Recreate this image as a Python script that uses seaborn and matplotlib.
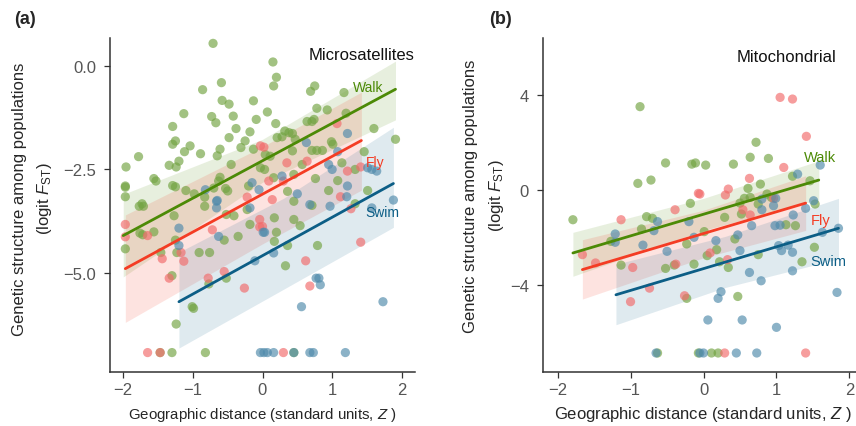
import numpy as np
import pandas as pd
import matplotlib
matplotlib.use("Agg")
import matplotlib.pyplot as plt
import seaborn as sns

# ---------------- data: panel (a) Microsatellites ----------------
a_walk_z = [-0.71,-0.86,-0.59,-0.58,-0.48,-0.13,-1.13,-0.73,-0.67,-0.42,-0.09,-1.29,-0.38,-0.18,-0.48,-1.25,-1.29,-1.04,-1.12,-0.89,
            -0.61,-0.65,-0.25,-0.31,-0.13,-1.78,-1.96,-1.20,-1.34,-1.24,-1.56,-1.53,-0.45,-0.61,-1.97,-1.97,-1.97,-1.29,-1.25,-1.10,
            -0.98,-0.70,-0.63,-0.53,-0.50,-0.83,-0.20,0.03,-1.73,
            0.15,0.20,0.16,0.75,0.69,1.17,0.07,0.19,0.78,0.93,1.20,0.74,0.71,0.64,0.32,0.38,0.43,0.21,0.28,0.47,
            1.60,1.91,0.99,1.01,0.71,0.78,0.86,0.43,0.04,0.11,1.46,0.57,1.14,1.33,-0.03,0.16,0.45,0.76,1.08,0.36,
            0.95,1.51,0.45,
            -1.97,-1.77,-1.71,-1.76,-1.72,-1.56,-1.27,-1.25,-1.46,-1.23,-0.91,-0.76,-0.83,-0.55,-0.52,-0.41,-0.35,-0.22,-0.18,-1.30,
            -0.77,-0.52,-1.01,-0.99,-1.24,-1.47,-1.30,-0.82,
            0.17,0.20,0.17,0.45,0.54,0.36,0.33,0.79,0.71,1.33,0.45]
a_walk_y = [0.55,-0.57,-0.40,-0.83,-0.92,-0.84,-1.15,-1.22,-1.37,-1.21,-1.29,-1.46,-1.51,-1.59,-1.73,-1.81,-1.89,-1.93,-2.07,-2.12,
            -2.01,-2.17,-1.81,-1.97,-2.01,-2.19,-2.44,-2.30,-2.40,-2.44,-2.72,-2.78,-2.38,-2.69,-2.90,-2.93,-3.16,-2.89,-2.92,-3.01,
            -3.09,-2.95,-2.78,-2.96,-3.02,-3.17,-2.90,-2.50,-3.33,
            0.10,-0.27,-0.48,-0.48,-0.61,-0.64,-1.11,-1.39,-1.02,-1.06,-1.14,-1.29,-1.34,-1.34,-1.57,-1.61,-1.63,-1.73,-1.71,-1.77,
            -1.51,-1.77,-1.83,-1.89,-2.04,-2.04,-2.04,-2.05,-2.14,-2.18,-2.07,-2.38,-2.34,-2.50,-2.46,-2.70,-2.62,-2.72,-2.77,-3.03,
            -3.01,-3.01,-3.27,
            -4.42,-3.39,-3.39,-4.04,-4.08,-4.01,-3.62,-4.21,-4.51,-4.51,-4.51,-4.51,-3.39,-4.21,-3.59,-3.62,-4.12,-3.47,-3.83,-5.07,
            -5.27,-5.13,-5.82,-5.86,-6.24,-6.93,-6.93,-6.93,
            -4.24,-4.02,-3.67,-3.71,-3.86,-4.34,-4.83,-4.34,-3.37,-3.33,-6.93]

a_fly_z = [-0.03,-0.22,1.07,0.02,0.35,0.64,1.41,1.22,0.09,0.30,1.12,0.14,-1.97,-1.97,-1.65,-1.17,-1.44,-1.13,-0.72,-0.04,
           -0.04,-1.34,-0.78,-0.55,-0.26,0.00,0.62,0.68,1.41,1.27,-1.65,-1.47,0.30]
a_fly_y = [-1.93,-3.17,-1.39,-1.96,-2.34,-2.30,-2.44,-2.54,-2.78,-2.78,-3.16,-3.23,-3.83,-4.13,-4.10,-4.51,-4.66,-4.72,-3.96,-3.71,
           -3.89,-5.13,-5.13,-4.97,-5.37,-3.88,-4.71,-5.32,-4.26,-3.45,-6.93,-6.93,-6.93]

a_swim_z = [-0.82,-0.65,-0.15,-0.05,1.22,0.63,1.08,0.95,1.00,1.51,1.57,1.64,0.28,1.22,0.50,1.21,1.88,-1.20,-1.20,-0.66,
            -0.66,-0.63,-0.18,0.01,-0.11,0.16,0.03,0.68,0.97,1.57,0.77,0.81,0.83,0.56,1.73,
            -0.03,0.02,0.07,0.16,0.45,0.68,0.73,1.19]
a_swim_y = [-2.99,-3.25,-2.82,-2.99,-1.63,-1.85,-2.07,-2.38,-2.50,-2.46,-2.50,-2.54,-2.66,-2.90,-3.09,-3.16,-3.24,-3.92,-4.34,-3.27,
            -3.43,-4.12,-3.43,-4.02,-4.71,-4.52,-4.02,-3.35,-3.39,-3.43,-5.13,-5.13,-5.29,-5.82,-5.70,
            -6.93,-6.93,-6.93,-6.93,-6.93,-6.93,-6.93,-6.93]

# fitted lines (end points) and confidence bands, panel (a)
a_walk_line_x = [-2.0, 1.91];  a_walk_line_y = [-4.10, -0.56]
a_fly_line_x = [-1.97, 1.42];  a_fly_line_y = [-4.90, -1.80]
a_swim_line_x = [-1.20, 1.88]; a_swim_line_y = [-5.70, -2.84]
a_walk_band_x = [-2.0, 0.0, 1.91];  a_walk_band_lo = [-5.10, -2.81, -1.30]; a_walk_band_hi = [-3.10, -1.77, 0.12]
a_fly_band_x = [-1.97, 0.0, 1.42];  a_fly_band_lo = [-6.20, -4.30, -3.00];  a_fly_band_hi = [-3.60, -1.95, -0.63]
a_swim_band_x = [-1.20, 0.3, 1.88]; a_swim_band_lo = [-6.82, -5.40, -3.90]; a_swim_band_hi = [-4.50, -3.20, -1.48]

# ---------------- data: panel (b) Mitochondrial ----------------
b_walk_z = [-0.87,-0.52,-0.16,-0.11,-0.90,-0.72,-1.79,-0.18,-0.78,-0.70,-1.27,-0.85,-1.13,-0.23,-0.52,-0.40,-0.13,-0.23,
            0.72,0.64,0.89,0.41,0.03,1.22,1.46,0.61,0.78,0.56,0.64,0.50,0.87,0.93,0.75,0.52,1.53,0.29,0.01,1.13,1.26,
            0.43,0.18,0.05,0.75,1.52,1.35,0.34,0.22,0.47,-0.63,-0.07,0.11,0.20]
b_walk_y = [3.51,1.14,1.09,1.14,0.28,0.42,-1.25,-0.56,-1.12,-1.19,-2.16,-1.64,-3.16,-2.27,-3.30,-3.16,-3.12,-4.56,
            2.01,1.38,1.33,1.09,1.05,0.58,0.39,0.07,0.25,-0.35,-0.31,-0.55,-0.17,-0.31,-0.59,-1.01,-0.59,-1.15,-1.75,-1.46,-1.50,
            -2.06,-2.51,-2.76,-2.72,-2.41,-3.02,-3.26,-3.02,-4.48,-6.86,-6.86,-6.86,-6.86]

b_fly_z = [-1.13,-0.39,-0.07,-1.66,-1.48,-0.97,-0.38,-0.74,-1.00,-0.26,1.05,1.22,1.41,1.10,0.63,0.34,0.30,-0.05,0.96,0.54,
           0.64,0.09,0.33,0.29,1.40]
b_fly_y = [-1.25,-0.83,-0.14,-2.72,-3.07,-3.26,-3.12,-4.13,-4.70,-4.45,3.90,3.83,2.26,0.95,0.49,0.04,-0.21,-0.17,-0.35,-0.83,
           -1.05,-2.65,-2.93,-6.86,-6.86]

b_swim_z = [-0.63,-0.20,-1.21,-1.21,-0.68,-0.83,-0.50,-0.13,1.60,1.29,0.99,0.80,0.80,0.96,1.51,1.40,0.66,0.98,1.05,1.23,
            0.47,0.17,0.50,1.03,1.07,1.16,1.22,1.85,1.63,0.63,0.79,1.22,1.83,0.24,0.20,0.06,0.53,1.00,
            -0.65,-0.05,0.00,0.45,0.73]
b_swim_y = [-1.33,-1.33,-1.85,-2.20,-1.71,-2.32,-2.58,-1.99,1.05,0.67,-0.35,-0.38,-0.83,-0.66,-0.45,-0.77,-1.50,-1.50,-1.48,-1.05,
            -1.89,-2.13,-2.55,-2.34,-2.55,-2.32,-2.62,-1.61,-1.78,-3.47,-3.82,-3.40,-4.31,-4.28,-4.56,-5.47,-5.47,-5.78,
            -6.86,-6.86,-6.86,-6.86,-6.86]

b_walk_line_x = [-1.79, 1.58]; b_walk_line_y = [-2.65, 0.42]
b_fly_line_x = [-1.66, 1.40];  b_fly_line_y = [-3.35, -0.55]
b_swim_line_x = [-1.20, 1.85]; b_swim_line_y = [-4.41, -1.61]
b_walk_band_x = [-1.79, 0.0, 1.58]; b_walk_band_lo = [-3.63, -1.70, -0.40]; b_walk_band_hi = [-1.78, -0.35, 1.23]
b_fly_band_x = [-1.66, 0.0, 1.40];  b_fly_band_lo = [-4.59, -2.85, -1.70];  b_fly_band_hi = [-2.09, -0.85, 0.60]
b_swim_band_x = [-1.20, 0.3, 1.85]; b_swim_band_lo = [-5.67, -4.10, -2.90]; b_swim_band_hi = [-3.12, -1.95, -0.35]

groups = ["Walk", "Fly", "Swim"]
x_ticks = [-2, -1, 0, 1, 2]
x_ticklabels = ["\u22122", "\u22121", "0", "1", "2"]
a_y_ticks = [0.0, -2.5, -5.0]
a_y_ticklabels = ["0.0", "\u22122.5", "\u22125.0"]
b_y_ticks = [4, 0, -4]
b_y_ticklabels = ["4", "0", "\u22124"]

# ---------------- style ----------------
sns.set_style("ticks")
plt.rcParams["font.family"] = ["Liberation Sans", "DejaVu Sans"]
plt.rcParams["mathtext.fontset"] = "custom"
plt.rcParams["mathtext.rm"] = "Liberation Sans"
plt.rcParams["mathtext.it"] = "Liberation Sans:italic"

point_colors = {"Walk": "#72A341", "Fly": "#F26A6A", "Swim": "#4F8AAB"}
line_colors = {"Walk": "#4C8A06", "Fly": "#F43C24", "Swim": "#0C5E86"}
band_alpha = {"Walk": 0.13, "Fly": 0.14, "Swim": 0.13}

fig = plt.figure(figsize=(8.56, 4.27), dpi=100)
axA = fig.add_axes([110/856, 54/427, 305/856, 334/427])
axB = fig.add_axes([543/856, 54/427, 321/856, 334/427])


def make_df(wz, wy, fz, fy, sz, sy):
    return pd.DataFrame({
        "z": list(wz) + list(fz) + list(sz),
        "fst": list(wy) + list(fy) + list(sy),
        "mode": ["Walk"] * len(wz) + ["Fly"] * len(fz) + ["Swim"] * len(sz),
    })


def draw_panel(ax, df, bands, lines, labels, fs, tfs):
    for g in groups:
        bx, blo, bhi = bands[g]
        ax.fill_between(bx, blo, bhi, color=line_colors[g], alpha=band_alpha[g], lw=0, zorder=1)
    sns.scatterplot(data=df, x="z", y="fst", hue="mode", palette=point_colors, hue_order=groups,
                    s=44, alpha=0.66, edgecolor="none", legend=False, ax=ax, zorder=2)
    for g in groups:
        lx, ly = lines[g]
        sns.lineplot(x=lx, y=ly, color=line_colors[g], lw=2.0, ax=ax, zorder=3)
    for g in groups:
        tx, ty = labels[g]
        ax.text(tx, ty, g, color=line_colors[g], fontsize=fs, ha="center", va="center", zorder=4)
    sns.despine(ax=ax)
    for sp in ["left", "bottom"]:
        ax.spines[sp].set_color("#333333")
        ax.spines[sp].set_linewidth(1.1)
    ax.tick_params(axis="both", colors="#333333", labelcolor="#555555", labelsize=tfs, length=4, width=0.9)
    ax.tick_params(axis="y", pad=6)
    ax.set_xlabel("")
    ax.set_ylabel("")


dfA = make_df(a_walk_z, a_walk_y, a_fly_z, a_fly_y, a_swim_z, a_swim_y)
draw_panel(axA, dfA,
           {"Walk": (a_walk_band_x, a_walk_band_lo, a_walk_band_hi),
            "Fly": (a_fly_band_x, a_fly_band_lo, a_fly_band_hi),
            "Swim": (a_swim_band_x, a_swim_band_lo, a_swim_band_hi)},
           {"Walk": (a_walk_line_x, a_walk_line_y),
            "Fly": (a_fly_line_x, a_fly_line_y),
            "Swim": (a_swim_line_x, a_swim_line_y)},
           {"Walk": (1.52, -0.51), "Fly": (1.62, -2.33), "Swim": (1.72, -3.54)}, 10, 12)
axA.set_xlim(-2.19, 2.19)
axA.set_ylim(-7.4, 0.68)
axA.set_xticks(x_ticks)
axA.set_xticklabels(x_ticklabels)
axA.set_yticks(a_y_ticks)
axA.set_yticklabels(a_y_ticklabels)
axA.text(1.0, 0.952, "Microsatellites", transform=axA.transAxes, ha="right", va="center", fontsize=12, color="#111111")

dfB = make_df(b_walk_z, b_walk_y, b_fly_z, b_fly_y, b_swim_z, b_swim_y)
draw_panel(axB, dfB,
           {"Walk": (b_walk_band_x, b_walk_band_lo, b_walk_band_hi),
            "Fly": (b_fly_band_x, b_fly_band_lo, b_fly_band_hi),
            "Swim": (b_swim_band_x, b_swim_band_lo, b_swim_band_hi)},
           {"Walk": (b_walk_line_x, b_walk_line_y),
            "Fly": (b_fly_line_x, b_fly_line_y),
            "Swim": (b_swim_line_x, b_swim_line_y)},
           {"Walk": (1.60, 1.39), "Fly": (1.60, -1.26), "Swim": (1.71, -2.99)}, 10.5, 12)
axB.set_xlim(-2.2, 2.2)
axB.set_ylim(-7.66, 6.4)
axB.set_xticks(x_ticks)
axB.set_xticklabels(x_ticklabels)
axB.set_yticks(b_y_ticks)
axB.set_yticklabels(b_y_ticklabels)
axB.text(0.913, 0.946, "Mitochondrial", transform=axB.transAxes, ha="right", va="center", fontsize=12, color="#111111")

# labels
H = 427.0
W = 856.0
fig.text(25/W, 1 - 19/H, "(a)", fontsize=13, fontweight="bold", ha="center", va="center")
fig.text(500/W, 1 - 19/H, "(b)", fontsize=13, fontweight="bold", ha="center", va="center")
fig.text(20/W, 1 - 199/H, "Genetic structure among populations", rotation=90, fontsize=12, ha="center", va="center")
fig.text(45/W, 1 - 199/H, r"(logit $F_{\mathrm{ST}}$)", rotation=90, fontsize=12, ha="center", va="center")
fig.text(470/W, 1 - 196/H, "Genetic structure among populations", rotation=90, fontsize=12, ha="center", va="center")
fig.text(497/W, 1 - 196/H, r"(logit $F_{\mathrm{ST}}$)", rotation=90, fontsize=12, ha="center", va="center")
fig.text(262/W, 1 - 415/H, r"Geographic distance (standard units, $Z$ )", fontsize=10.8, ha="center", va="center")
fig.text(703/W, 1 - 415/H, r"Geographic distance (standard units, $Z$ )", fontsize=12, ha="center", va="center")

fig.savefig("out.png", dpi=100, facecolor="white")
